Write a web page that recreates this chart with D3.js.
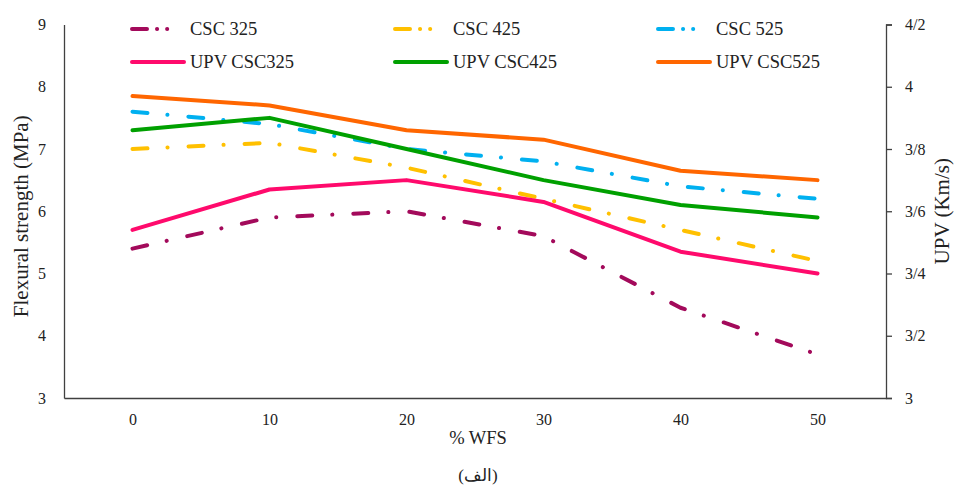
<!DOCTYPE html>
<html>
<head>
<meta charset="utf-8">
<script src="https://cdn.jsdelivr.net/npm/d3@7"></script>
<style>
  html, body { margin: 0; padding: 0; background: #fff; }
</style>
</head>
<body>
<svg id="chart" width="954" height="486"></svg>
<script>
// WFS replacement levels (%)
const wfs = [0, 10, 20, 30, 40, 50];

// Flexural strength (MPa) – left axis
const csc325 = [5.4, 5.9, 6.0, 5.6, 4.45, 3.7];
const csc425 = [7.0, 7.1, 6.7, 6.2, 5.7, 5.2];
const csc525 = [7.6, 7.4, 7.0, 6.8, 6.4, 6.2];

// Ultrasonic pulse velocity (Km/s) – right axis
const upv325 = [3.54, 3.67, 3.70, 3.63, 3.47, 3.40];
const upv425 = [3.86, 3.90, 3.80, 3.70, 3.62, 3.58];
const upv525 = [3.97, 3.94, 3.86, 3.83, 3.73, 3.70];

// Axis ticks
const leftTicks = [3, 4, 5, 6, 7, 8, 9];
const rightTicks = [3, 3.2, 3.4, 3.6, 3.8, 4, 4.2];
const rightTickLabels = ["3", "3/2", "3/4", "3/6", "3/8", "4", "4/2"];

const series = [
  { name: "CSC 325",    values: csc325, axis: "left",  color: "#A30A5B", dashed: true },
  { name: "CSC 425",    values: csc425, axis: "left",  color: "#FFC000", dashed: true },
  { name: "CSC 525",    values: csc525, axis: "left",  color: "#00B0F0", dashed: true },
  { name: "UPV CSC325", values: upv325, axis: "right", color: "#FF0A6C", dashed: false },
  { name: "UPV CSC425", values: upv425, axis: "right", color: "#00A000", dashed: false },
  { name: "UPV CSC525", values: upv525, axis: "right", color: "#FF6600", dashed: false }
];

const FONT = "Liberation Serif, Times New Roman, serif";
const TEXT_COLOR = "#222";

const svg = d3.select("#chart");
const plot = { left: 64, right: 886, top: 24.5, bottom: 398 };

const x = d3.scalePoint().domain(wfs).range([plot.left, plot.right]).padding(0.5);
const yL = d3.scaleLinear().domain([3, 9]).range([plot.bottom, plot.top]);
const yR = d3.scaleLinear().domain([3, 4.2]).range([plot.bottom, plot.top]);

const axisColor = "#404040";

function styleAxis(g) {
  g.attr("font-family", FONT);
  g.select(".domain").attr("stroke", axisColor).attr("stroke-width", 1.3);
  g.selectAll(".tick line").attr("stroke", axisColor).attr("stroke-width", 1.3);
  g.selectAll("text")
    .attr("font-family", FONT)
    .attr("font-size", 16)
    .attr("fill", TEXT_COLOR);
}

// Left axis (no tick marks)
svg.append("g").attr("transform", `translate(${plot.left},0)`)
  .call(d3.axisLeft(yL).tickValues(leftTicks).tickSize(0).tickPadding(18).tickFormat(d3.format("d")))
  .call(styleAxis);

// Right axis (outward ticks)
svg.append("g").attr("transform", `translate(${plot.right},0)`)
  .call(d3.axisRight(yR).tickValues(rightTicks).tickSizeInner(6).tickSizeOuter(6).tickPadding(13)
    .tickFormat((d, i) => rightTickLabels[i]))
  .call(styleAxis);

// Bottom axis (no tick marks)
svg.append("g").attr("transform", `translate(0,${plot.bottom})`)
  .call(d3.axisBottom(x).tickSize(0).tickPadding(16))
  .call(styleAxis);

function label(sel, size) {
  return sel.attr("font-family", FONT).attr("font-size", size).attr("fill", TEXT_COLOR);
}

// Axis titles
svg.append("text")
  .attr("transform", `translate(28,${(plot.top + plot.bottom) / 2 + 5}) rotate(-90)`)
  .attr("text-anchor", "middle")
  .call(label, 21)
  .text("Flexural strength (MPa)");

svg.append("text")
  .attr("transform", `translate(949,${(plot.top + plot.bottom) / 2}) rotate(-90)`)
  .attr("text-anchor", "middle")
  .call(label, 21)
  .text("UPV (Km/s)");

svg.append("text")
  .attr("x", 478).attr("y", 444).attr("text-anchor", "middle")
  .call(label, 18.5)
  .text("% WFS");

svg.append("text")
  .attr("x", 478).attr("y", 481).attr("text-anchor", "middle")
  .attr("direction", "rtl")
  .call(label, 17)
  .text("(الف)");

// Series lines
const dashPattern = "15 20 0.1 21";
const lines = svg.append("g");
series.forEach(s => {
  const y = s.axis === "left" ? yL : yR;
  const line = d3.line().x((d, i) => x(wfs[i])).y(d => y(d));
  lines.append("path")
    .datum(s.values)
    .attr("d", line)
    .attr("fill", "none")
    .attr("stroke", s.color)
    .attr("stroke-width", 4)
    .attr("stroke-linecap", "round")
    .attr("stroke-linejoin", "round")
    .attr("stroke-dasharray", s.dashed ? dashPattern : null);
});

// Legend: three columns, dashed series on top row, UPV series below
const legendCols = [130, 393, 656];
const legendRows = [29, 62];
const legend = svg.append("g");
series.forEach((s, i) => {
  const col = i % 3, row = s.dashed ? 0 : 1;
  const lx = legendCols[col], ly = legendRows[row];
  legend.append("line")
    .attr("x1", lx + 2).attr("x2", lx + 54)
    .attr("y1", ly).attr("y2", ly)
    .attr("stroke", s.color).attr("stroke-width", 4)
    .attr("stroke-linecap", "round")
    .attr("stroke-dasharray", s.dashed ? "15 10 0.1 10 0.1 40" : null);
  legend.append("text")
    .attr("x", lx + 60).attr("y", ly + 6)
    .call(label, 18.5)
    .text(s.name);
});
</script>
</body>
</html>
